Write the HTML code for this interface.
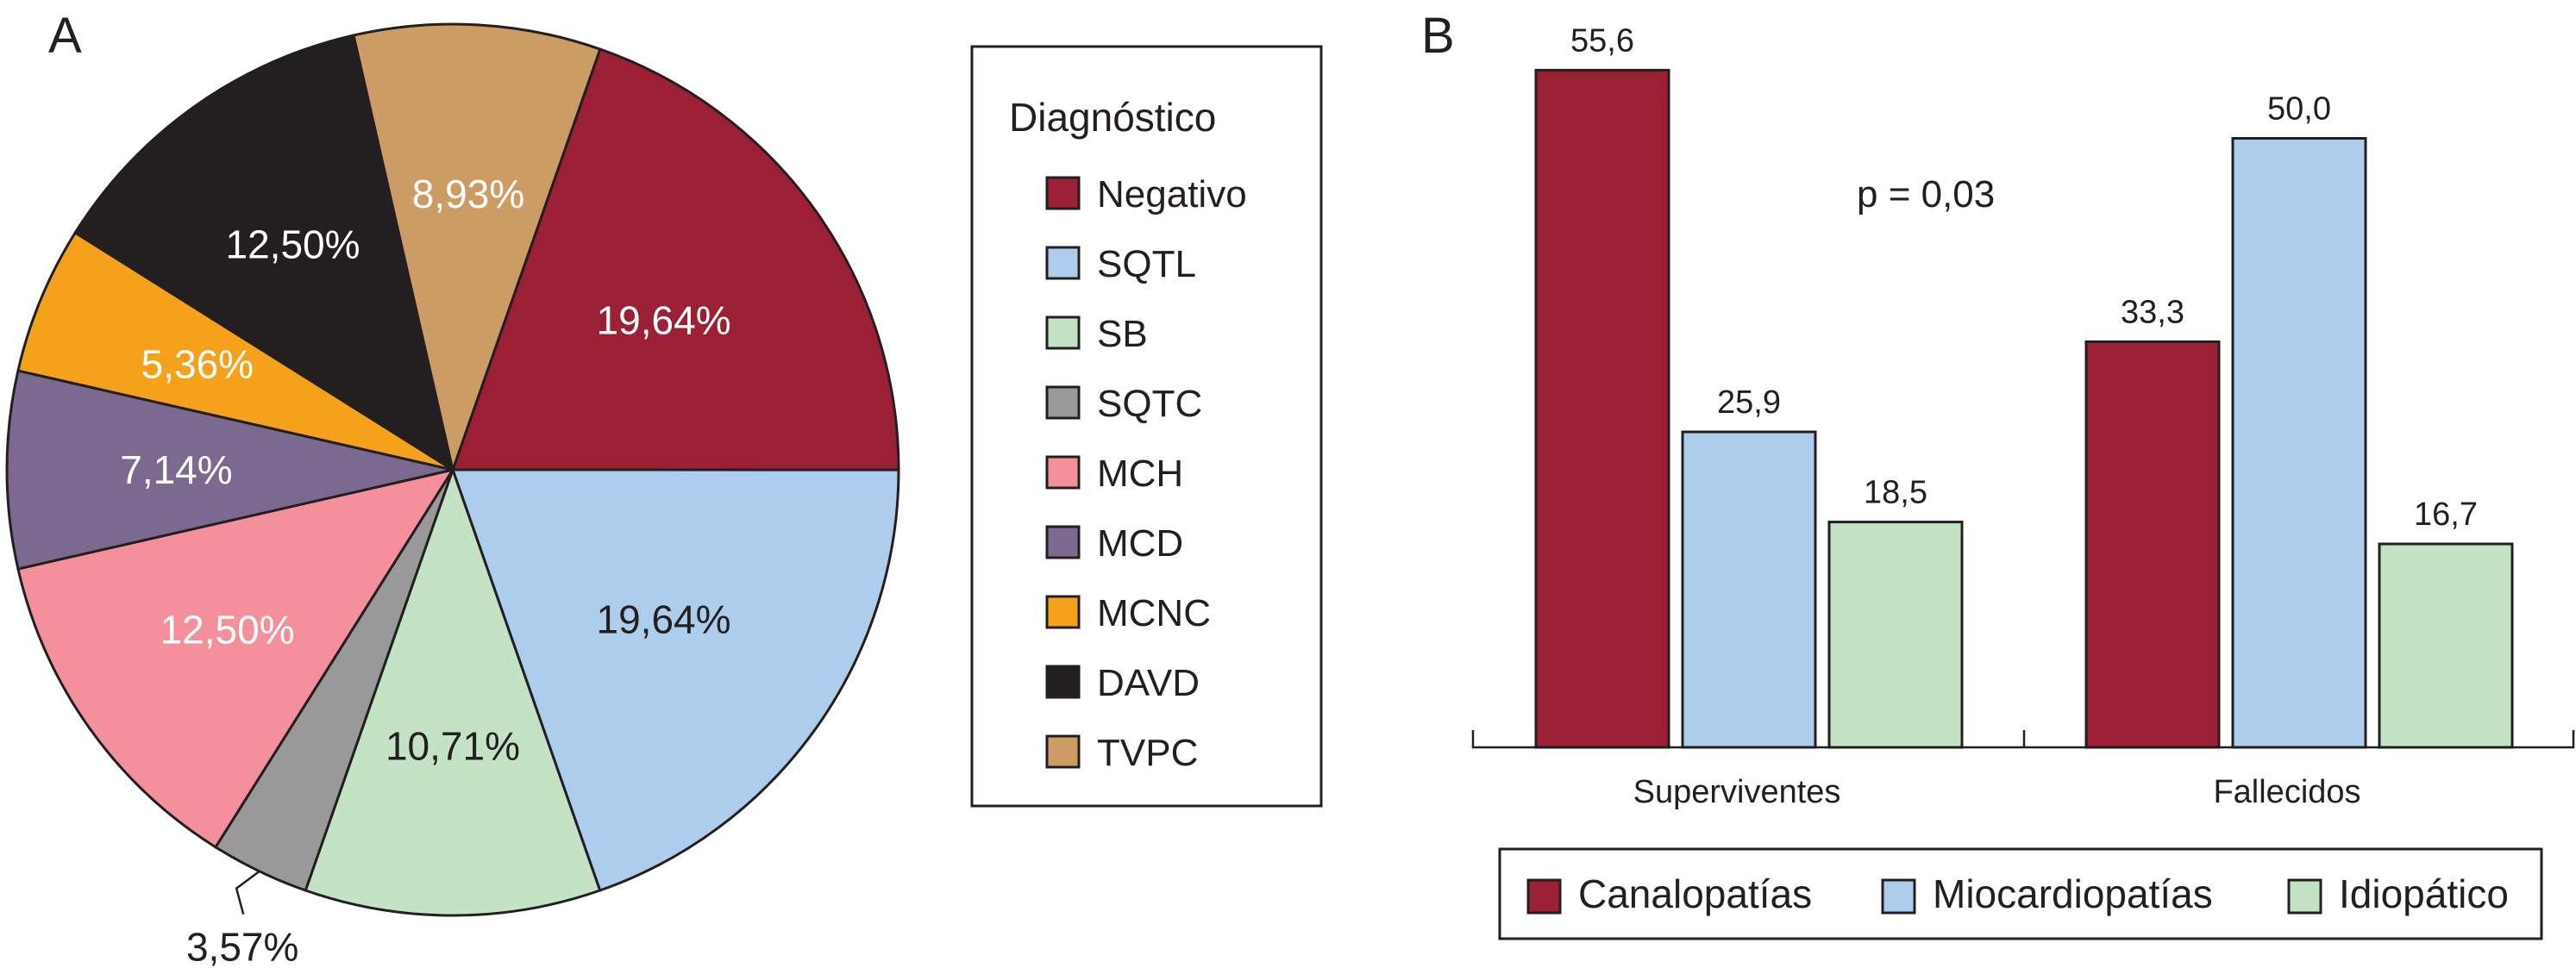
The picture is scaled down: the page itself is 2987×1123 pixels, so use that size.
<!DOCTYPE html>
<html><head><meta charset="utf-8"><style>
html,body{margin:0;padding:0;background:#fff;}
svg{display:block;font-family:"Liberation Sans",Arial,sans-serif;}
</style></head><body>
<svg id="chart" width="2987" height="1123" viewBox="0 0 2987 1123" xmlns="http://www.w3.org/2000/svg">
<text x="56" y="61" font-size="58" fill="#231f20">A</text>
<text x="1648" y="61" font-size="58" fill="#231f20">B</text>
<g id="pie"></g>
<g id="pieLegend">
<rect x="1127" y="54" width="405" height="881" fill="#fff" stroke="#231f20" stroke-width="3"/>
<text x="1170" y="152" font-size="46" fill="#231f20">Diagnóstico</text>
</g>
<g id="bars"></g>
<text x="2153" y="240" font-size="44" fill="#231f20">p = 0,03</text>
<g id="barLegend">
<rect x="1739" y="985" width="1208" height="104" fill="#fff" stroke="#231f20" stroke-width="3"/>
</g>
</svg>
<script>
const pieLabels=["Negativo","SQTL","SB","SQTC","MCH","MCD","MCNC","DAVD","TVPC"];
const pieValues=[19.64,19.64,10.71,3.57,12.50,7.14,5.36,12.50,8.93];
const pieColors=["#9b2035","#aecdec","#c4e3c5","#999999","#f4909b","#7b6990","#f6a11c","#231f20","#cb9c64"];
const pieTextColors=["#fff","#231f20","#231f20","#231f20","#fff","#fff","#fff","#fff","#fff"];
const barCategories=["Superviventes","Fallecidos"];
const seriesNames=["Canalopatías","Miocardiopatías","Idiopático"];
const canalValues=[55.6,33.3];
const mioValues=[25.9,50.0];
const idioValues=[18.5,16.7];
const barColors=["#9b2035","#aecdec","#c4e3c5"];

const NS="http://www.w3.org/2000/svg";
function mk(tag,attrs,parent){const e=document.createElementNS(NS,tag);for(const k in attrs)e.setAttribute(k,attrs[k]);parent.appendChild(e);return e;}
function fmt(v,d){return v.toFixed(d).replace('.',',');}

// Pie
const pie=document.getElementById('pie');
const cx=525,cy=545,r=517,start=19.3;
const total=pieValues.reduce((a,b)=>a+b,0);
function pt(deg,rad){const a=deg*Math.PI/180;return [cx+rad*Math.sin(a),cy-rad*Math.cos(a)];}
let ang=start;
pieValues.forEach((v,i)=>{
  const sweep=v/total*360;
  const p1=pt(ang,r),p2=pt(ang+sweep,r);
  const large=sweep>180?1:0;
  const s=mk('path',{d:`M${cx},${cy}L${p1[0]},${p1[1]}A${r},${r} 0 ${large} 1 ${p2[0]},${p2[1]}Z`,fill:pieColors[i],stroke:'#231f20','stroke-width':3,'stroke-linejoin':'round'},pie);
  
  
  const mid=ang+sweep/2;
  if(v<4){
    const a=pt(mid,r),b=pt(mid,r+22);
    const ln=mk('polyline',{points:`${a[0]},${a[1]} ${b[0]-17},${b[1]} ${b[0]-9},${b[1]+30}`,fill:'none',stroke:'#231f20','stroke-width':2.5},pie);
    
    
    const t=mk('text',{x:b[0]-10,y:b[1]+84,'text-anchor':'middle','font-size':46,fill:'#231f20'},pie);
    t.textContent=fmt(v,2)+'%';
    
    
  } else {
    const lr=v>15?r*0.58:r*0.62;
    const c=pt(mid,lr);
    const t=mk('text',{x:c[0],y:c[1]+16,'text-anchor':'middle','font-size':46,fill:pieTextColors[i]},pie);
    t.textContent=fmt(v,2)+'%';
    
    
  }
  ang+=sweep;
});
// pie legend
const pl=document.getElementById('pieLegend');
pieLabels.forEach((lab,i)=>{
  const y=206+i*81;
  const sw=mk('rect',{x:1214,y:y,width:37,height:36,fill:pieColors[i],stroke:'#231f20','stroke-width':3},pl);
  
  
  const t=mk('text',{x:1272,y:y+34,'font-size':44,fill:'#231f20'},pl);
  t.textContent=lab;
  
  
});

// Bars
const bars=document.getElementById('bars');
const base=867,scale=14.13,bw=154,gap=16;
const groupCenters=[2028,2666];
function yv(v){return base-v*scale;}
const series=[canalValues,mioValues,idioValues];
barCategories.forEach((cat,g)=>{
  series.forEach((vals,s)=>{
    const x=groupCenters[g]+(s-1)*(bw+gap)-bw/2;
    const v=vals[g];
    const b=mk('rect',{x:x,y:yv(v),width:bw,height:base-yv(v),fill:barColors[s],stroke:'#231f20','stroke-width':3},bars);
    
    
    const t=mk('text',{x:x+bw/2,y:yv(v)-22,'text-anchor':'middle','font-size':38,fill:'#231f20'},bars);
    t.textContent=fmt(v,1);
    
    
  });
  const ct=mk('text',{x:groupCenters[g]-14,y:931,'text-anchor':'middle','font-size':38,fill:'#231f20'},bars);
  ct.textContent=cat;
  
  
});
const ax=mk('path',{d:'M1708,847V867H2984V847M2347,847V867',fill:'none',stroke:'#231f20','stroke-width':2.5},bars);


// bar legend
const bl=document.getElementById('barLegend');
const lx=[1772,2183,2654];
seriesNames.forEach((n,i)=>{
  const sw=mk('rect',{x:lx[i],y:1021,width:37,height:38,fill:barColors[i],stroke:'#231f20','stroke-width':3},bl);
  
  
  const t=mk('text',{x:lx[i]+58,y:1053,'font-size':46,fill:'#231f20'},bl);
  t.textContent=n;
  
  
});
</script>
</body></html>
